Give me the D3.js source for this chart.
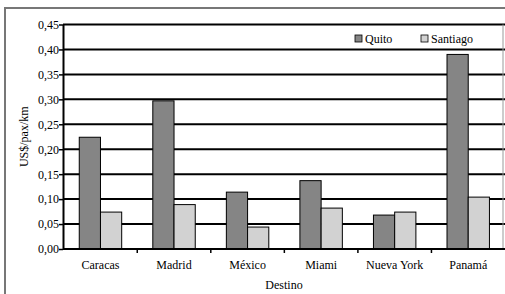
<!DOCTYPE html>
<html>
<head>
<meta charset="utf-8">
<script src="https://cdn.jsdelivr.net/npm/d3@7"></script>
<style>
  html, body { margin: 0; padding: 0; background: #fff; }
  svg, svg text { font-family: "Liberation Serif", "Times New Roman", Times, "DejaVu Serif", serif !important; }
</style>
</head>
<body>
<svg id="chart" width="505" height="294"></svg>
<script>
  "use strict";

  // datos
  var destinos = ['Caracas', 'Madrid', 'México', 'Miami', 'Nueva York', 'Panamá'];
  var series = ['Quito', 'Santiago'];
  var quito = [0.224, 0.297, 0.114, 0.137, 0.068, 0.390];
  var santiago = [0.074, 0.089, 0.044, 0.082, 0.074, 0.104];
  var yTicks = [0, 0.05, 0.10, 0.15, 0.20, 0.25, 0.30, 0.35, 0.40, 0.45];

  var colors = { Quito: '#858585', Santiago: '#d2d2d2' };
  var values = { Quito: quito, Santiago: santiago };
  var FONT = '"Liberation Serif", "Times New Roman", Times, "DejaVu Serif", serif';

  var plot = { left: 63, right: 505, top: 24.5, bottom: 249 };

  var svg = d3.select('#chart');

  // marco exterior
  svg.append('rect')
    .attr('x', 5).attr('y', 8)
    .attr('width', 520).attr('height', 310)
    .attr('fill', 'none')
    .attr('stroke', '#777')
    .attr('stroke-width', 2);

  var x = d3.scaleBand()
    .domain(destinos)
    .range([plot.left + 0.7, plot.right]);

  var xInner = d3.scaleBand()
    .domain(series)
    .range([0, x.bandwidth() * 0.577])
    .padding(0);

  var y = d3.scaleLinear()
    .domain([0, 0.45])
    .range([plot.bottom, plot.top]);

  var fmt = function(d) { return d3.format('.2f')(d).replace('.', ','); };

  // lineas de division
  svg.append('g')
    .selectAll('line')
    .data(yTicks.filter(function(d) { return d > 0; }))
    .join('line')
    .attr('x1', plot.left).attr('x2', plot.right)
    .attr('y1', function(d) { return y(d); })
    .attr('y2', function(d) { return y(d); })
    .attr('stroke', '#000')
    .attr('stroke-width', 2);

  svg.append('line')
    .attr('x1', 503).attr('x2', 503)
    .attr('y1', plot.top).attr('y2', plot.bottom)
    .attr('stroke', '#999').attr('stroke-width', 1);

  // barras
  var groups = svg.append('g')
    .selectAll('g')
    .data(destinos)
    .join('g')
    .attr('transform', function(d) {
      var off = (x.bandwidth() - xInner.range()[1]) / 2;
      return 'translate(' + (x(d) + off) + ',0)';
    });

  groups.selectAll('rect')
    .data(function(d, i) {
      return series.map(function(s) { return { serie: s, value: values[s][i] }; });
    })
    .join('rect')
    .attr('x', function(d) { return xInner(d.serie); })
    .attr('y', function(d) { return y(d.value); })
    .attr('width', xInner.bandwidth())
    .attr('height', function(d) { return y(0) - y(d.value); })
    .attr('fill', function(d) { return colors[d.serie]; })
    .attr('stroke', '#000')
    .attr('stroke-width', 1);

  // eje Y
  var yAxis = svg.append('g')
    .attr('transform', 'translate(' + plot.left + ',0)')
    .call(d3.axisLeft(y).tickValues(yTicks).tickFormat(fmt).tickSize(4).tickSizeOuter(0))
    .attr('font-family', FONT);

  yAxis.select('.domain').attr('stroke', '#000').attr('stroke-width', 2);
  yAxis.selectAll('.tick line').attr('stroke-width', 1.5);
  yAxis.selectAll('.tick text')
    .attr('x', -4)
    .attr('font-size', 12)
    .attr('fill', '#000');

  // eje X
  var xAxis = svg.append('g')
    .attr('transform', 'translate(0,' + plot.bottom + ')')
    .call(d3.axisBottom(x).tickSize(0).tickSizeOuter(0))
    .attr('font-family', FONT);

  xAxis.select('.domain')
    .attr('d', 'M' + plot.left + ',0H' + plot.right)
    .attr('stroke', '#000').attr('stroke-width', 2);
  xAxis.selectAll('.tick text')
    .attr('dy', 0)
    .attr('y', 20)
    .attr('font-size', 12)
    .attr('fill', '#000');

  // marcas entre categorias
  svg.append('g')
    .selectAll('line')
    .data(destinos.slice(1))
    .join('line')
    .attr('x1', function(d) { return x(d); })
    .attr('x2', function(d) { return x(d); })
    .attr('y1', plot.bottom).attr('y2', plot.bottom + 4)
    .attr('stroke', '#000').attr('stroke-width', 1.5);

  // titulos de ejes
  svg.append('text')
    .attr('transform', 'translate(28,' + ((plot.top + plot.bottom) / 2) + ') rotate(-90)')
    .attr('text-anchor', 'middle')
    .attr('font-family', FONT)
    .attr('font-size', 12)
    .text('US$/pax/km');

  svg.append('text')
    .attr('x', (plot.left + plot.right) / 2)
    .attr('y', 289)
    .attr('text-anchor', 'middle')
    .attr('font-family', FONT)
    .attr('font-size', 12)
    .text('Destino');

  // leyenda
  var legendX = [355, 421];
  var legend = svg.append('g')
    .selectAll('g')
    .data(series)
    .join('g')
    .attr('transform', function(d, i) { return 'translate(' + legendX[i] + ',35)'; });

  legend.append('rect')
    .attr('width', 7).attr('height', 7)
    .attr('fill', function(d) { return colors[d]; })
    .attr('stroke', '#000')
    .attr('stroke-width', 0.8);

  legend.append('text')
    .attr('x', 10).attr('y', 7.5)
    .attr('font-family', FONT)
    .attr('font-size', 12)
    .text(function(d) { return d; });
</script>
</body>
</html>
